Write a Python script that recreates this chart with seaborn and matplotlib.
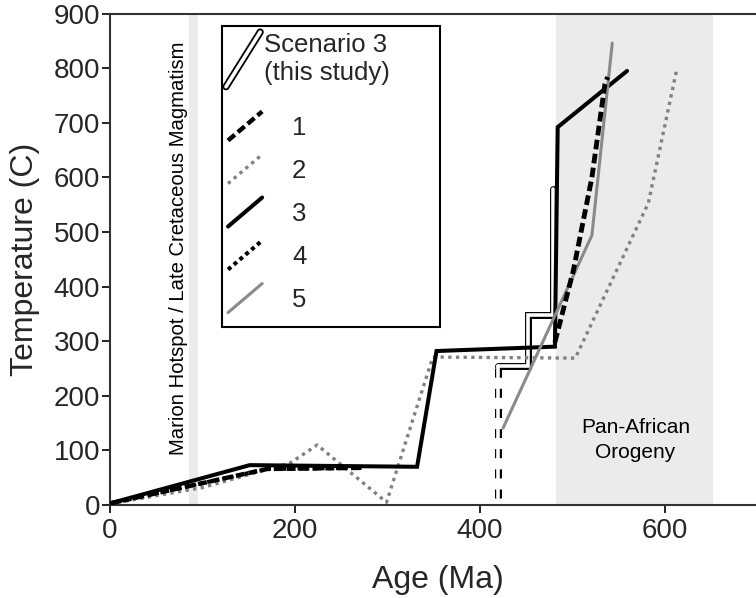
import matplotlib
matplotlib.use("Agg")
import matplotlib.pyplot as plt
import seaborn as sns
from matplotlib.lines import Line2D
from matplotlib.patches import Rectangle
from matplotlib.legend_handler import HandlerBase

# ---------------- data ----------------
s3_dash_age = [419, 419]
s3_dash_temp = [12, 255]
s3_age = [419, 452, 452, 479, 479]
s3_temp = [255, 255, 348, 348, 579]

m1_low_age = [0, 170, 272]
m1_low_temp = [3, 66, 68]
m1_high_age = [481, 501, 521, 535, 538]
m1_high_temp = [298, 430, 600, 770, 784]

m2_age = [0, 100, 195, 224, 299, 349, 503, 582, 613]
m2_temp = [2, 32, 77, 110, 5, 271, 269, 553, 800]

m3_age = [0, 151, 332, 353, 481, 484, 559]
m3_temp = [3, 73, 70, 282, 290, 692, 795]

m4_age = [0, 170, 272]
m4_temp = [3, 66, 68]

m5_age = [425, 521, 543]
m5_temp = [141, 494, 846]

scenario_label = "Scenario 3\n(this study)"
model_labels = ["1", "2", "3", "4", "5"]
marion_span = (85, 95)
panafrican_span = (482, 652)
x_ticks = [0, 200, 400, 600]
y_ticks = [0, 100, 200, 300, 400, 500, 600, 700, 800, 900]

# ---------------- style ----------------
sns.set_theme(style="ticks")
plt.rcParams["font.family"] = ["Liberation Sans", "DejaVu Sans"]

fig = plt.figure(figsize=(7.56, 5.98), dpi=100)
W, H = 756, 598
AX_W, AX_H = 644.7, 491.4
ax = fig.add_axes([110 / W, 93 / H, AX_W / W, AX_H / H])
ax.set_xlim(0, 697)
ax.set_ylim(0, 900)


def px2ax(px, py):
    return (px - 110) / AX_W, (505 - py) / AX_H


span_col = "#ebebeb"
ax.axvspan(*marion_span, color=span_col, lw=0, zorder=0)
ax.axvspan(*panafrican_span, color=span_col, lw=0, zorder=0)

gray2 = "#808080"
gray5 = "#8a8a8a"
st1 = (0, (2.0, 0.9))
st2 = (0, (1.0, 1.3))
st4 = (0, (1.0, 0.9))
s3_dash = (0, (1.3, 1.6))

# Scenario 3 (double line)
sns.lineplot(x=s3_dash_age, y=s3_dash_temp, sort=False, estimator=None, ax=ax,
             color="black", lw=5.0, linestyle=s3_dash, zorder=2)
sns.lineplot(x=s3_age, y=s3_temp, sort=False, estimator=None, ax=ax,
             color="black", lw=5.0, solid_capstyle="round", solid_joinstyle="miter", zorder=2)
sns.lineplot(x=s3_dash_age, y=s3_dash_temp, sort=False, estimator=None, ax=ax,
             color="white", lw=2.6, solid_capstyle="round", zorder=2.1)
sns.lineplot(x=s3_age, y=s3_temp, sort=False, estimator=None, ax=ax,
             color="white", lw=2.6, solid_capstyle="round", solid_joinstyle="miter", zorder=2.1)

# model curves
sns.lineplot(x=m2_age, y=m2_temp, sort=False, estimator=None, ax=ax,
             color=gray2, lw=2.4, linestyle=st2, zorder=3)
sns.lineplot(x=m3_age, y=m3_temp, sort=False, estimator=None, ax=ax,
             color="black", lw=2.9, solid_joinstyle="miter", zorder=3.2)
sns.lineplot(x=m4_age, y=m4_temp, sort=False, estimator=None, ax=ax,
             color="black", lw=2.9, linestyle=st4, zorder=3.1)
sns.lineplot(x=m1_low_age, y=m1_low_temp, sort=False, estimator=None, ax=ax,
             color="black", lw=3.2, linestyle=st1, zorder=3.1)
sns.lineplot(x=m5_age, y=m5_temp, sort=False, estimator=None, ax=ax,
             color=gray5, lw=2.2, zorder=3.3)
sns.lineplot(x=m1_high_age, y=m1_high_temp, sort=False, estimator=None, ax=ax,
             color="black", lw=3.5, linestyle=st1, zorder=3.4)

# annotations
ax.text(74, 92, "Marion Hotspot / Late Cretaceous Magmatism", rotation=90,
        ha="center", va="bottom", fontsize=14.6, color="black")
ax.text(568, 119, "Pan-African\nOrogeny", ha="center", va="center",
        multialignment="center", fontsize=15, linespacing=1.35, color="black")

# axes styling
ax.set_xticks(x_ticks)
ax.set_yticks(y_ticks)
ax.tick_params(axis="both", labelsize=20, length=6, width=1.4, color="#222222",
               direction="out")
ax.tick_params(axis="x", pad=3)
ax.tick_params(axis="y", pad=1)
for side in ["left", "bottom", "top"]:
    ax.spines[side].set_visible(True)
    ax.spines[side].set_linewidth(1.5)
    ax.spines[side].set_color("#333333")
ax.spines["right"].set_visible(False)

ax.set_xlabel("Age (Ma)", fontsize=23)
ax.set_ylabel("Temperature (C)", fontsize=23)
ax.xaxis.set_label_coords(0.509, -0.122)
ax.yaxis.set_label_coords(-0.1086, 0.5)


# legend with diagonal handles
class DiagHandler(HandlerBase):
    def __init__(self, rise):
        super().__init__()
        self.rise = rise

    def create_artists(self, legend, orig_handle, xdescent, ydescent,
                       width, height, fontsize, trans):
        parts = orig_handle if isinstance(orig_handle, tuple) else (orig_handle,)
        x0 = -xdescent
        x1 = x0 + width
        yc = -ydescent + height / 2
        dy = width * self.rise / 2
        arts = []
        for p in parts:
            ln = Line2D([x0, x1], [yc - dy, yc + dy])
            self.update_prop(ln, p, legend)
            ln.set_transform(trans)
            arts.append(ln)
        return arts


# legend frame
(fx0, fy1) = px2ax(222, 26)
(fx1, fy0) = px2ax(440, 327)
frame = Rectangle((fx0, fy0), fx1 - fx0, fy1 - fy0, transform=ax.transAxes,
                  facecolor="white", edgecolor="black", lw=1.5, zorder=4)
ax.add_patch(frame)

h_s3 = (Line2D([], [], color="black", lw=5.2, solid_capstyle="round"),
        Line2D([], [], color="white", lw=2.6, solid_capstyle="round"))
h1 = Line2D([], [], color="black", lw=3.2, linestyle=st1)
h2 = Line2D([], [], color=gray2, lw=2.4, linestyle=st2)
h3 = Line2D([], [], color="black", lw=2.9)
h4 = Line2D([], [], color="black", lw=2.9, linestyle=st4)
h5 = Line2D([], [], color=gray5, lw=2.2)

legA = ax.legend(handles=[h_s3], labels=[scenario_label],
                 handler_map={tuple: DiagHandler(1.6)},
                 loc="upper left", bbox_to_anchor=px2ax(226, 33),
                 bbox_transform=ax.transAxes, borderaxespad=0, borderpad=0,
                 fontsize=18.5, frameon=False, handlelength=1.33, handletextpad=0.15)
legA.set_zorder(5)
ax.add_artist(legA)

legB = ax.legend(handles=[h1, h2, h3, h4, h5], labels=model_labels,
                 handler_map={Line2D: DiagHandler(0.85)},
                 loc="upper left", bbox_to_anchor=px2ax(228, 116),
                 bbox_transform=ax.transAxes, borderaxespad=0, borderpad=0,
                 fontsize=18.5, frameon=False, handlelength=1.33, handletextpad=1.17,
                 labelspacing=0.74)
legB.set_zorder(5)

fig.savefig("out.png", dpi=100)
